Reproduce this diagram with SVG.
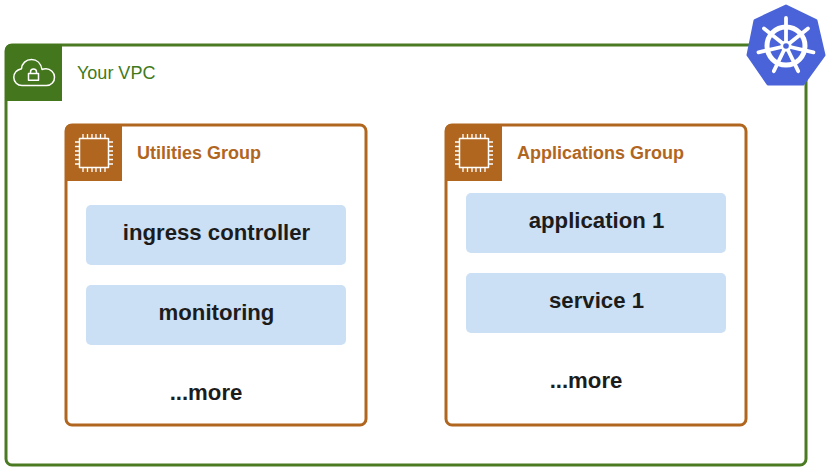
<svg xmlns="http://www.w3.org/2000/svg" width="830" height="474" viewBox="0 0 830 474">
<style>
text{font-family:"Liberation Sans",Arial,sans-serif}
.vpc{fill:#fff;stroke:#4a7a22;stroke-width:3}
.grp{fill:#fff;stroke:#b1661f;stroke-width:3}
.tab-g{fill:#44761d}
.tab-o{fill:#b1661f}
.box{fill:#cce0f5}
.lbl{font-size:22.2px;font-weight:700;fill:#1c1c1c;text-anchor:middle}
.ttl{font-size:18px;font-weight:700;fill:#b1661f}
.ic{fill:none;stroke:#fff;stroke-width:1.5;stroke-linejoin:round}
.pin{stroke:#fff;stroke-width:1.3;fill:none}
.spk{stroke:#fff;stroke-width:3.8;stroke-linecap:round;fill:none}
</style>
<defs>
<g id="chip">
<rect class="ic" x="-14.500" y="-14.500" width="29" height="29"/>
<path class="pin" d="M-11-19v4M-6.500-19v4M-2-19v4M2-19v4M6.500-19v4M11-19v4M-11 15v4M-6.500 15v4M-2 15v4M2 15v4M6.500 15v4M11 15v4M-19-11h4M-19-6.500h4M-19-2h4M-19 2h4M-19 6.500h4M-19 11h4M15-11h4M15-6.500h4M15-2h4M15 2h4M15 6.500h4M15 11h4"/>
</g>
</defs>
<rect width="830" height="474" fill="#fff"/>
<g id="vpc">
<rect class="vpc" x="6" y="45" width="800" height="420" rx="6"/>
<path class="tab-g" d="M5 50a6 6 0 0 1 6-6H62V101H5Z"/>
<path class="ic" d="M22 85.500H46.500A8 8 0 0 0 54.500 77C54.500 72.500 50.500 68.800 46 68.800 44.500 68.800 43 69 42 69.500 41 63.500 37 59.500 31.500 59.500 26 59.500 21.800 63.500 21.500 68.800 16.500 70 13.800 73.500 13.800 77.500 13.800 82 17.500 85.500 22 85.500Z"/>
<rect class="ic" x="28.500" y="73.500" width="10" height="6.800"/>
<path class="ic" d="M30.500 73.500v-1.500a3 3 0 0 1 6 0v1.500"/>
<text x="77" y="79" font-size="18" fill="#3f7a1c">Your VPC</text>
</g>
<g id="utilities-group">
<rect class="grp" x="66" y="125" width="300" height="300" rx="6"/>
<path class="tab-o" d="M65 130a6 6 0 0 1 6-6H122V181H65Z"/>
<use href="#chip" x="94" y="153"/>
<text class="ttl" x="137" y="159">Utilities Group</text>
</g>
<g id="ingress-controller">
<rect class="box" x="86" y="205" width="260" height="60" rx="5"/>
<text class="lbl" x="216.500" y="240">ingress controller</text>
</g>
<g id="monitoring">
<rect class="box" x="86" y="285" width="260" height="60" rx="5"/>
<text class="lbl" x="216.500" y="320">monitoring</text>
</g>
<text class="lbl" x="206" y="400">...more</text>
<g id="applications-group">
<rect class="grp" x="446" y="125" width="300" height="300" rx="6"/>
<path class="tab-o" d="M445 130a6 6 0 0 1 6-6H502V181H445Z"/>
<use href="#chip" x="474" y="153"/>
<text class="ttl" x="517" y="159">Applications Group</text>
</g>
<g id="application-1">
<rect class="box" x="466" y="193" width="260" height="60" rx="5"/>
<text class="lbl" x="596.500" y="228">application 1</text>
</g>
<g id="service-1">
<rect class="box" x="466" y="273" width="260" height="60" rx="5"/>
<text class="lbl" x="596.500" y="308">service 1</text>
</g>
<text class="lbl" x="586" y="388">...more</text>
<g id="kubernetes">
<polygon points="786,6 816,20.500 824,55 803,84 768,84 748,55 755,20.500" fill="#4a63d8" stroke="#4a63d8" stroke-width="3" stroke-linejoin="round"/>
<circle cx="786" cy="46" r="19" fill="none" stroke="#fff" stroke-width="5"/>
<g class="spk">
<path d="M786 46V18"/>
<path d="M786 46L808 28.500"/>
<path d="M786 46L813.500 52.300"/>
<path d="M786 46L798.200 71.200"/>
<path d="M786 46L773.800 71.200"/>
<path d="M786 46L758.500 52.300"/>
<path d="M786 46L764 28.500"/>
</g>
<circle cx="786" cy="46" r="5.500" fill="#fff"/>
<circle cx="786" cy="46" r="2.800" fill="#4a63d8"/>
</g>
</svg>
